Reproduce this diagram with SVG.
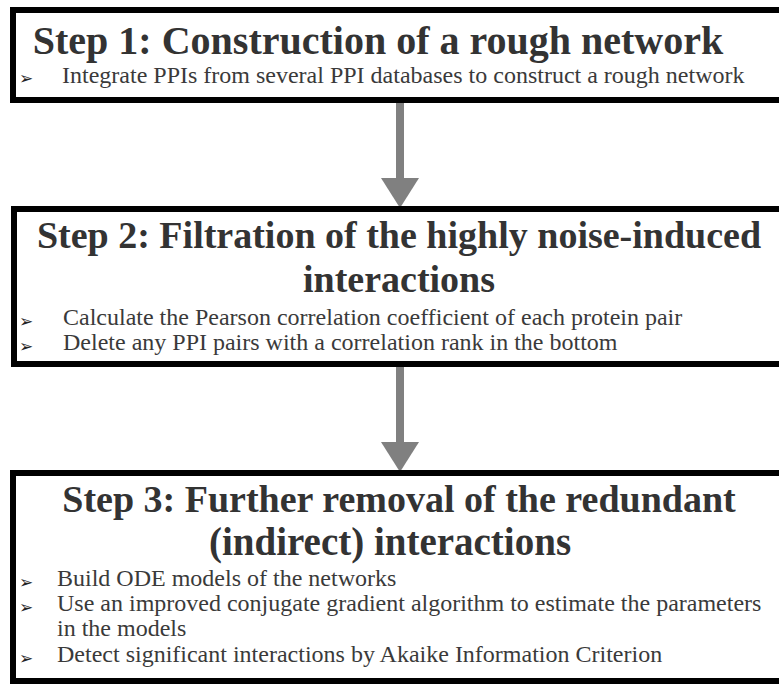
<svg xmlns="http://www.w3.org/2000/svg" width="779" height="684" viewBox="0 0 779 684">
  <style>
    .box { fill: #ffffff; stroke: #000000; stroke-width: 6; }
    .title { font-family: "Liberation Serif", "Times New Roman", serif; font-weight: bold; fill: #333333; text-anchor: middle; }
    .item { font-family: "Liberation Serif", "Times New Roman", serif; font-size: 24px; fill: #3a3a3a; }
    .bullet { font-family: "DejaVu Sans", sans-serif; font-size: 17px; fill: #222222; }
    .shaft { stroke: #808080; stroke-width: 8; fill: none; }
    .head { fill: #808080; }
  </style>
  <rect x="0" y="0" width="779" height="684" fill="#ffffff"/>

  <!-- connectors between the three steps -->
  <g id="connectors">
    <line class="shaft" x1="400" y1="100" x2="400" y2="181"/>
    <polygon class="head" points="381,178 419,178 400,208"/>
    <line class="shaft" x1="400" y1="364" x2="400" y2="445"/>
    <polygon class="head" points="381,442 419,442 400,472"/>
  </g>

  <!-- step 1 -->
  <g id="step1">
    <rect class="box" x="13" y="10" width="790" height="90"/>
    <text class="title" x="378" y="54" font-size="40">Step 1: Construction of a rough network</text>
    <text class="bullet" x="19" y="84">➢</text>
    <text class="item" x="62" y="83">Integrate PPIs from several PPI databases to construct a rough network</text>
  </g>

  <!-- step 2 -->
  <g id="step2">
    <rect class="box" x="14" y="209" width="790" height="155"/>
    <text class="title" x="399" y="248" font-size="38">Step 2: Filtration of the highly noise-induced</text>
    <text class="title" x="399" y="292" font-size="38">interactions</text>
    <text class="bullet" x="19" y="327">➢</text>
    <text class="item" x="63" y="325">Calculate the Pearson correlation coefficient of each protein pair</text>
    <text class="bullet" x="19" y="352">➢</text>
    <text class="item" x="63" y="350">Delete any PPI pairs with a correlation rank in the bottom</text>
  </g>

  <!-- step 3 -->
  <g id="step3">
    <rect class="box" x="13" y="473" width="790" height="208"/>
    <text class="title" x="399" y="512" font-size="38">Step 3: Further removal of the redundant</text>
    <text class="title" x="390" y="555" font-size="39">(indirect) interactions</text>
    <text class="bullet" x="19" y="588">➢</text>
    <text class="item" x="57" y="586">Build ODE models of the networks</text>
    <text class="bullet" x="19" y="613">➢</text>
    <text class="item" x="57" y="611">Use an improved conjugate gradient algorithm to estimate the parameters</text>
    <text class="item" x="57" y="636">in the models</text>
    <text class="bullet" x="19" y="664">➢</text>
    <text class="item" x="57" y="662">Detect significant interactions by Akaike Information Criterion</text>
  </g>
</svg>
